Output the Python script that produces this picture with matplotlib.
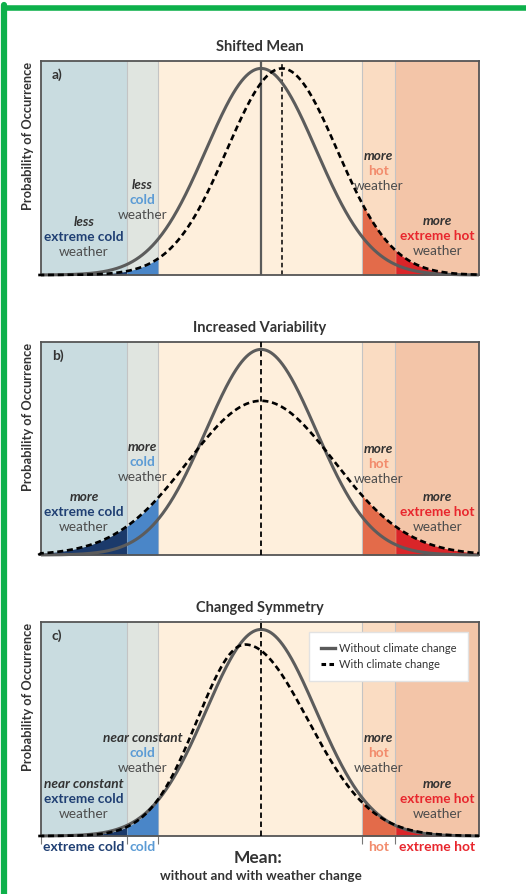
import numpy as np
import matplotlib
matplotlib.use("Agg")
import matplotlib.pyplot as plt
from matplotlib.lines import Line2D

plt.rcParams['font.family'] = ['Lato', 'DejaVu Sans']

# zone edges in units of the baseline standard deviation (mean at 0)
zone_edges = [-4.00, -2.44, -1.87, 1.84, 2.44, 3.96]
zone_names = ['extreme cold', 'cold', 'normal', 'hot', 'extreme hot']
zone_bg = ['#C9DCE0', '#E0E5E0', '#FEEFDC', '#FADCC2', '#F3C5A8']
zone_fill = ['#1B3A6B', '#4A86C8', None, '#E36B4A', '#DA2529']
zone_text = ['#1F3F73', '#5B9BD5', None, '#F28B6C', '#E8262D']

panel_titles = ['Shifted Mean', 'Increased Variability', 'Changed Symmetry']
panel_letters = ['a)', 'b)', 'c)']

# distribution parameters: mode, peak height, left sd, right sd
without_change = [(0.0, 1.0, 1.0, 1.0), (0.0, 1.0, 1.0, 1.0), (0.0, 1.0, 1.0, 1.0)]
with_change = [(0.38, 1.0, 1.0, 1.0), (0.0, 0.75, 1.33, 1.33), (-0.29, 0.927, 0.87, 1.14)]
mean_lines = [(0.0, 0.38), (0.0, 0.0), (0.0, 0.0)]

# label words per panel for (extreme cold, cold, hot, extreme hot)
qualifiers = [['less', 'less', 'more', 'more'],
              ['more', 'more', 'more', 'more'],
              ['near constant', 'near constant', 'more', 'more']]
# top-line height (axes fraction) for each label stack
label_tops = [[0.248, 0.42, 0.556, 0.252],
              [0.272, 0.507, 0.498, 0.272],
              [0.243, 0.458, 0.458, 0.243]]

# axes placement in pixels (top, bottom)
W, H = 526, 894
ax_left, ax_right = 41, 479
panel_px = [(61, 275), (342, 555), (622, 836)]


def split_normal(x, mode, peak, sl, sr):
    s = np.where(x < mode, sl, sr)
    return peak * np.exp(-0.5 * ((x - mode) / s) ** 2)


fig = plt.figure(figsize=(W / 100, H / 100), dpi=100)
fig.patch.set_facecolor('white')

# green frame
fig.add_artist(Line2D([4 / W, 4 / W], [0, 1 - 5 / H], color='#0DB04B', lw=4.5,
                      transform=fig.transFigure, solid_capstyle='round'))
fig.add_artist(Line2D([4 / W, 1], [1 - 7.5 / H, 1 - 7.5 / H], color='#0DB04B', lw=4.0,
                      transform=fig.transFigure, solid_capstyle='round'))

x = np.linspace(zone_edges[0], zone_edges[-1], 1200)
ytop = 1.036

for i in range(3):
    top, bot = panel_px[i]
    ax = fig.add_axes([ax_left / W, 1 - bot / H, (ax_right - ax_left) / W, (bot - top) / H])
    ax.set_xlim(zone_edges[0], zone_edges[-1])
    ax.set_ylim(0, ytop)

    # background zones
    for k in range(5):
        ax.axvspan(zone_edges[k], zone_edges[k + 1], color=zone_bg[k], lw=0, zorder=0)
    for e in zone_edges[1:-1]:
        ax.axvline(e, color='#C4C4C4', lw=0.8, zorder=0.5)

    y0 = split_normal(x, *without_change[i])
    y1 = split_normal(x, *with_change[i])

    # shaded tails under the "with climate change" curve
    for k in [0, 1, 3, 4]:
        m = (x >= zone_edges[k]) & (x <= zone_edges[k + 1])
        ax.fill_between(x[m], 0, y1[m], color=zone_fill[k], lw=0, zorder=1)

    # mean lines
    m0, m1 = mean_lines[i]
    if m0 != m1:
        ax.plot([m0, m0], [0, ytop], color='#5A5A5A', lw=1.6, zorder=2)
        ax.plot([m1, m1], [0, ytop], color='black', lw=1.1, dashes=(3, 2), zorder=2)
    else:
        ax.plot([m1, m1], [0, ytop * 1.012], color='black', lw=1.3, dashes=(3, 2),
                zorder=4, clip_on=False)

    ax.plot(x, y0, color='#5C5C5C', lw=2.2, zorder=3, clip_on=False,
            solid_capstyle='butt')
    ax.plot(np.r_[x[0] - 0.05, x], np.r_[0, y1], color='black', lw=1.9,
            dashes=(2.3, 1.4), zorder=3, clip_on=False)

    for s in ax.spines.values():
        s.set_color('#555555')
        s.set_linewidth(1.3)

    ax.set_yticks([])
    if i < 2:
        ax.set_xticks([])
    else:
        ax.set_xticks(zone_edges[:-1])
        ax.set_xticklabels([])
        ax.tick_params(axis='x', which='major', length=6, color='#777777', width=0.8)
        centers = [(zone_edges[k] + zone_edges[k + 1]) / 2 for k in [0, 1, 3, 4]]
        ax.set_xticks(centers, minor=True)
        ax.set_xticklabels([zone_names[k] for k in [0, 1, 3, 4]], minor=True,
                           fontsize=10, fontweight='bold')
        ax.tick_params(axis='x', which='minor', length=0, pad=3.5)
        for lab, k in zip(ax.get_xticklabels(minor=True), [0, 1, 3, 4]):
            lab.set_color(zone_text[k])

        ax.legend(handles=[Line2D([], [], color='#5A5A5A', lw=2.4),
                           Line2D([], [], color='black', lw=2.2, dashes=(1.5, 1.1))],
                  labels=['Without climate change', 'With climate change'],
                  loc='upper right', bbox_to_anchor=(0.975, 0.955), fontsize=8,
                  handlelength=1.3, handletextpad=0.4, borderpad=1.0,
                  borderaxespad=0, labelspacing=0.45, frameon=True, fancybox=False,
                  shadow=False, edgecolor='#E2E2E2', framealpha=1.0,
                  labelcolor='#333333')

    ax.set_title(panel_titles[i], fontsize=10.5, fontweight='bold', color='#333333', pad=7)
    ax.text(0.025, 0.965, panel_letters[i], transform=ax.transAxes, fontsize=10,
            fontweight='bold', color='#333333', va='top', ha='left')

    # zone annotations
    for j, k in enumerate([0, 1, 3, 4]):
        cx = (zone_edges[k] + zone_edges[k + 1]) / 2
        yt = label_tops[i][j]
        step = 0.07
        ax.text(cx, yt, qualifiers[i][j], transform=ax.get_xaxis_transform(),
                ha='center', va='center', fontsize=9.8, fontweight='bold',
                fontstyle='italic', color='#333333', zorder=5)
        ax.text(cx, yt - step, zone_names[k], transform=ax.get_xaxis_transform(),
                ha='center', va='center', fontsize=9.8, fontweight='bold',
                color=zone_text[k], zorder=5)
        ax.text(cx, yt - 2 * step, 'weather', transform=ax.get_xaxis_transform(),
                ha='center', va='center', fontsize=9.8, color='#4D4D4D', zorder=5)

    fig.text(28 / W, 1 - (top + 1) / H, 'Probability of Occurrence', rotation=90,
             ha='center', va='top', fontsize=9.3, fontweight='bold', color='#333333')

fig.text(258 / W, 1 - 858 / H, 'Mean:', ha='center', va='center', fontsize=12.5,
         fontweight='bold', color='#333333')
fig.text(261 / W, 1 - 876 / H, 'without and with weather change', ha='center',
         va='center', fontsize=9.6, fontweight='bold', color='#333333')

fig.savefig('out.png', dpi=100)
